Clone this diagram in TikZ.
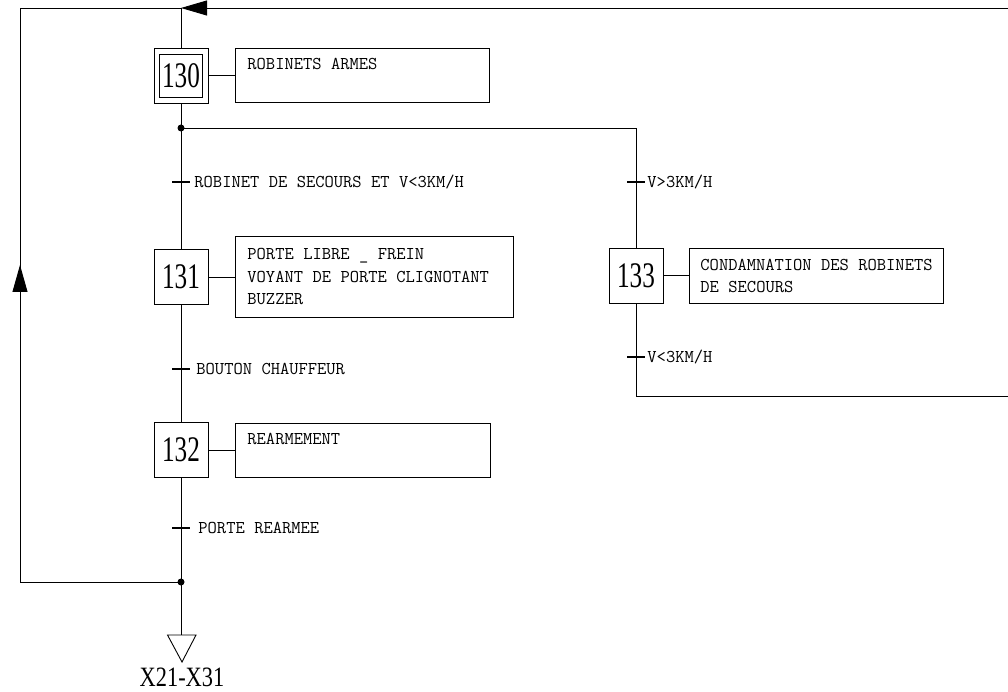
\documentclass[tikz,border=0pt]{standalone}
\usepackage{fontspec}
\setmainfont{Liberation Serif}
\newfontfamily\numfnt{Liberation Serif}
\usetikzlibrary{arrows.meta,decorations.markings,calc}
\newcommand\monotext{\fontsize{18}{22.5}\ttfamily\spaceskip=9.45pt plus 0pt minus 0pt\relax}
\begin{document}
\begin{tikzpicture}[x=1pt,y=-1pt, line width=0.9pt,
 stepbox/.style={draw, minimum width=54pt, minimum height=55pt, inner sep=0pt, font=\fontsize{36}{36}\numfnt},
 actbox/.style={draw, anchor=north west, align=flush left, inner xsep=12pt, inner ysep=0pt, font=\monotext},
 cond/.style={anchor=west, inner sep=0pt, font=\monotext},
 tickmark/.style={line width=1.1pt},
 dotmark/.style={fill=black},
]
\useasboundingbox (0,0) rectangle (1008,692);

% junction coordinates
\coordinate (jtop) at (181,8);
\coordinate (cl) at (20,8);
\coordinate (rt) at (1008,8);
\coordinate (jr) at (181,128);
\coordinate (jb) at (181,582);
\coordinate (rr) at (1008,396);
\coordinate (endtop) at (181,635);

% steps
\node[stepbox] (s130) at (181,75.5) {\scalebox{0.7}[1]{130}};
\node[draw, minimum width=43pt, minimum height=43pt, inner sep=0pt] (s130in) at (s130.center) {};
\node[stepbox] (s131) at (181,277) {\scalebox{0.7}[1]{131}};
\node[stepbox] (s132) at (181,450) {\scalebox{0.7}[1]{132}};
\node[stepbox] (s133) at (636,275.5) {\scalebox{0.7}[1]{133}};

% action boxes
\node[actbox, text width=230pt, minimum height=54pt] (a130) at (235,48) {ROBINETS ARMES\\\mbox{}};
\node[actbox, text width=254pt, minimum height=81pt] (a131) at (235,236) {PORTE LIBRE \_ FREIN\\VOYANT DE PORTE CLIGNOTANT\\BUZZER};
\node[actbox, text width=231pt, minimum height=54pt] (a132) at (235,423) {REARMEMENT\\\mbox{}};
\node[actbox, inner xsep=11pt, text width=232pt, minimum height=55pt] (a133) at (689,248) {\mbox{CONDAMNATION DES ROBINETS}\\DE SECOURS};

\draw (s130.east) -- (s130.east -| a130.west);
\draw (s131.east) -- (s131.east -| a131.west);
\draw (s132.east) -- (s132.east -| a132.west);
\draw (s133.east) -- (s133.east -| a133.west);

% main line
\draw (jtop) -- (s130.north);
\draw (s130.south) -- (s131.north);
\draw (s131.south) -- (s132.north);
\draw (s132.south) -- (endtop);
\draw (endtop) -- ($(endtop)+(-13.5,0)$) -- ($(endtop)+(1,27)$) -- ($(endtop)+(15,0)$) -- cycle;
\node[inner sep=0pt, font=\fontsize{28}{28}\numfnt] (x2131) at (182,677) {\scalebox{0.8}[1]{X21-X31}};

% right branch
\draw (jr) -| (s133.north);
\draw (s133.south) |- (rr);
\draw[-{Triangle[length=26pt,width=15pt]}] (rt) -- (jtop);

% left loop
\draw[postaction={decorate}, decoration={markings, mark=at position 478pt with {\arrow{Triangle[length=27pt,width=15pt]}}}] (jb) -| (cl) -- (jtop);

% junction dots
\fill[dotmark] (jr) circle[radius=3.5pt];
\fill[dotmark] (jb) circle[radius=3.5pt];

% transitions
\coordinate (c1) at (181,182);
\coordinate (c2) at (181,369);
\coordinate (c3) at (181,528);
\coordinate (c4) at (636,182);
\coordinate (c5) at (636,357);
\foreach \c in {c1,c2,c3,c4,c5}{
  \draw[tickmark] ($(\c)+(-9,0)$) -- ($(\c)+(9,0)$);
}
\node[cond] (t1) at (194,182) {ROBINET DE SECOURS ET V<3KM/H};
\node[cond] (t2) at (196,369) {BOUTON CHAUFFEUR};
\node[cond] (t3) at (198,528) {PORTE REARMEE};
\node[cond] (t4) at (647,182) {V>3KM/H};
\node[cond] (t5) at (647,357) {V<3KM/H};
\end{tikzpicture}
\end{document}
